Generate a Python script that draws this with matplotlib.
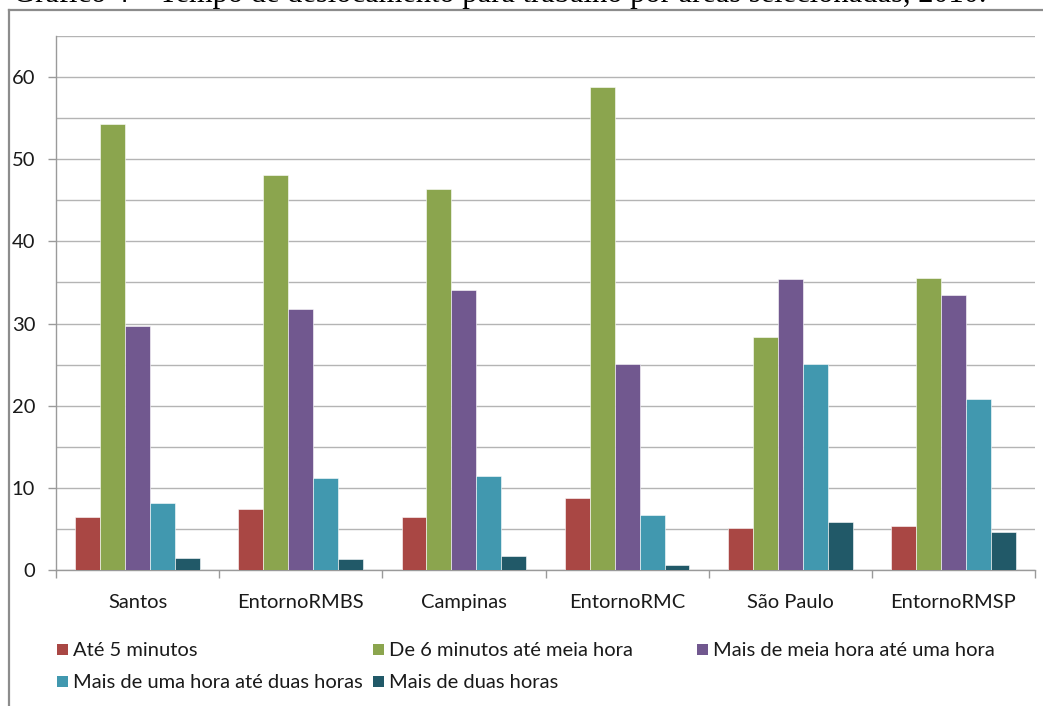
import matplotlib
matplotlib.use("Agg")
import numpy as np
import matplotlib.pyplot as plt
from matplotlib.patches import Rectangle
from matplotlib.lines import Line2D

W, H = 1043, 706

areas = ["Santos", "EntornoRMBS", "Campinas", "EntornoRMC", "São Paulo", "EntornoRMSP"]
series_names = [
    "Até 5 minutos",
    "De 6 minutos até meia hora",
    "Mais de meia hora até uma hora",
    "Mais de uma hora até duas horas",
    "Mais de duas horas",
]
ate_5 = [6.4, 7.4, 6.4, 8.8, 5.1, 5.4]
de_6_a_30 = [54.3, 48.1, 46.4, 58.8, 28.4, 35.6]
de_30_a_60 = [29.7, 31.8, 34.1, 25.1, 35.4, 33.5]
de_1h_a_2h = [8.1, 11.2, 11.5, 6.7, 25.1, 20.8]
mais_2h = [1.4, 1.3, 1.7, 0.6, 5.9, 4.6]
colors = ["#A94744", "#8BA54E", "#71588F", "#4198AF", "#215968"]

series = [ate_5, de_6_a_30, de_30_a_60, de_1h_a_2h, mais_2h]

plt.rcParams["font.family"] = ["Lato", "DejaVu Sans"]
txt_size = 14.5
grid_col = "#B4B4B4"
axis_col = "#9A9A9A"

fig = plt.figure(figsize=(W / 100, H / 100), dpi=100)

def fx(px):
    return px / W

def fy(py):
    return 1 - py / H

# caption line cut off at the top of the page
fig.text(fx(13), fy(2), "Gráfico 4 – Tempo de deslocamento para trabalho por áreas selecionadas, 2010.",
         family=["Liberation Serif", "DejaVu Serif"], fontsize=22, ha="left", va="baseline",
         color="black")

# outer chart frame (left and top edges visible)
fig.add_artist(Line2D([fx(9), fx(9)], [fy(10), 0], color="#8C8C8C", lw=1.6))
fig.add_artist(Line2D([fx(9), 1], [fy(10), fy(10)], color="#8C8C8C", lw=1.6))

ax = fig.add_axes([fx(56), fy(570), fx(1035) - fx(56), (570 - 36) / H])
x = np.arange(len(areas))
bw = 0.153
for i, (vals, name, c) in enumerate(zip(series, series_names, colors)):
    ax.bar(x + (i - 2) * bw, vals, width=bw, color=c, edgecolor="white", linewidth=0.4,
           label=name, zorder=3)

ax.set_xlim(-0.5, len(areas) - 0.5)
ax.set_ylim(0, 65)
ax.set_yticks(np.arange(0, 61, 10))
ax.set_yticks(np.arange(5, 66, 5), minor=True)
ax.yaxis.grid(True, which="both", color=grid_col, lw=1.0, zorder=0)
ax.set_xticks(x)
ax.set_xticklabels(areas, fontsize=txt_size, color="#1a1a1a")
ax.set_xticks(np.arange(-0.5, len(areas), 1.0), minor=True)
ax.tick_params(axis="x", which="major", length=0, pad=17)
ax.tick_params(axis="x", which="minor", length=6, color=axis_col, width=1.0)
ax.tick_params(axis="y", which="major", length=6, color=axis_col, width=1.0, pad=9,
               labelsize=txt_size, labelcolor="#1a1a1a")
ax.tick_params(axis="y", which="minor", length=0)
for s in ["top", "right"]:
    ax.spines[s].set_visible(False)
for s in ["left", "bottom"]:
    ax.spines[s].set_color(axis_col)
    ax.spines[s].set_linewidth(1.0)

# legend laid out in three columns
col_x = [57, 373, 697]
row_y = [649, 681]
sq = 11
for k, (name, c) in enumerate(zip(series_names, colors)):
    cx = col_x[k % 3]
    cy = row_y[k // 3]
    fig.add_artist(Rectangle((fx(cx), fy(cy + sq / 2)), sq / W, sq / H, transform=fig.transFigure,
                             facecolor=c, edgecolor="none"))
    fig.text(fx(cx + 16), fy(cy), name, fontsize=txt_size, ha="left", va="center_baseline",
             color="#1a1a1a")

fig.savefig("out.png", dpi=100)
